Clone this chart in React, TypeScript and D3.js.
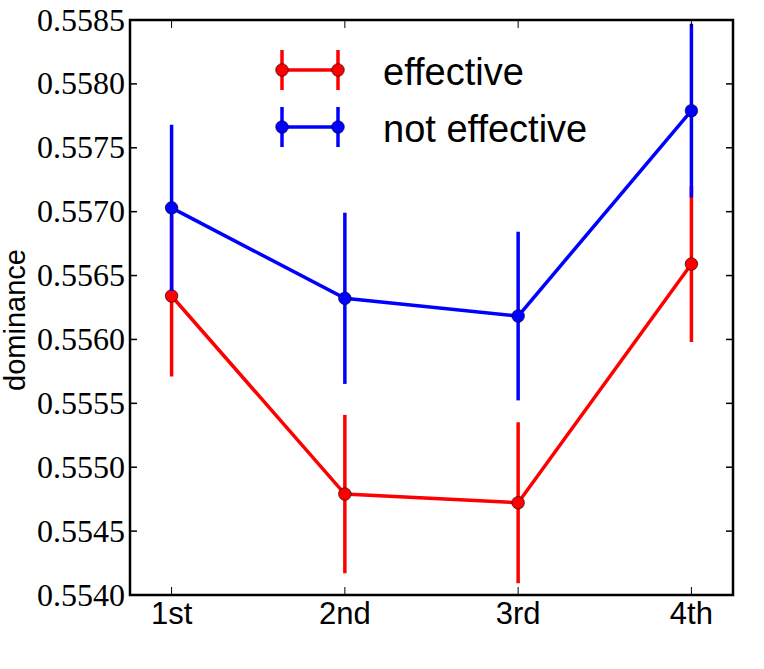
import React from 'react';
import * as d3 from 'd3';

const categories = ['1st', '2nd', '3rd', '4th'];
const effectiveMean = [0.55634, 0.55479, 0.554722, 0.55659];
const effectiveErr = [0.00063, 0.00062, 0.00063, 0.00061];
const notEffectiveMean = [0.55703, 0.556322, 0.556183, 0.55779];
const notEffectiveErr = [0.00065, 0.00067, 0.00066, 0.00068];
const yTicks = [0.554, 0.5545, 0.555, 0.5555, 0.556, 0.5565, 0.557, 0.5575, 0.558, 0.5585];

const series = [
  { name: 'effective', color: '#ff0000', mean: effectiveMean, err: effectiveErr },
  { name: 'not effective', color: '#0000ff', mean: notEffectiveMean, err: notEffectiveErr },
];

const W = 764;
const H = 669;
const left = 130;
const right = 733;
const top = 20;
const bottom = 595;

export default function App() {
  const x = d3.scaleLinear().domain([-0.24, 3.24]).range([left, right]);
  const y = d3.scaleLinear().domain([0.554, 0.5585]).range([bottom, top]);
  const line = d3
    .line<number>()
    .x((_, i) => x(i))
    .y((d) => y(d));

  return (
    <svg width={W} height={H} style={{ position: 'absolute', left: 0, top: 0 }}>
      <defs>
        <clipPath id="plot">
          <rect x={left} y={top} width={right - left} height={bottom - top} />
        </clipPath>
      </defs>
      <rect width={W} height={H} fill="#fff" />

      {/* series: error bars, line, markers */}
      <g clipPath="url(#plot)">
        {series.map((s) => (
          <g key={s.name}>
            {s.mean.map((m, i) => (
              <line
                key={'e' + i}
                x1={x(i)}
                x2={x(i)}
                y1={y(m - s.err[i])}
                y2={y(m + s.err[i])}
                stroke={s.color}
                strokeWidth={3.5}
              />
            ))}
            <path d={line(s.mean) || ''} fill="none" stroke={s.color} strokeWidth={3.5} />
            {s.mean.map((m, i) => (
              <circle key={'m' + i} cx={x(i)} cy={y(m)} r={6.3} fill={s.color} stroke="#000" strokeWidth={0.6} />
            ))}
          </g>
        ))}
      </g>

      {/* ticks */}
      {yTicks.map((t) => (
        <g key={t}>
          <line x1={left} x2={left + 7} y1={y(t)} y2={y(t)} stroke="#000" strokeWidth={1.5} />
          <line x1={right} x2={right - 7} y1={y(t)} y2={y(t)} stroke="#000" strokeWidth={1.5} />
          <text
            x={left - 5}
            y={y(t)}
            dy="0.33em"
            textAnchor="end"
            fontFamily="Liberation Serif"
            fontSize={32}
          >
            {d3.format('.4f')(t)}
          </text>
        </g>
      ))}
      {categories.map((c, i) => (
        <g key={c}>
          <line x1={x(i)} x2={x(i)} y1={bottom} y2={bottom - 8} stroke="#000" strokeWidth={1} />
          <line x1={x(i)} x2={x(i)} y1={top} y2={top + 8} stroke="#000" strokeWidth={1} />
          <text x={x(i)} y={624} textAnchor="middle" fontFamily="Liberation Sans" fontSize={31}>
            {c}
          </text>
        </g>
      ))}

      {/* frame */}
      <rect x={left} y={top} width={right - left} height={bottom - top} fill="none" stroke="#000" strokeWidth={2.5} />

      <text
        transform={`translate(25,320) rotate(-90)`}
        textAnchor="middle"
        fontFamily="Liberation Sans"
        fontSize={29}
      >
        dominance
      </text>

      {/* legend */}
      {series.map((s, k) => {
        const ly = 70 + k * 57;
        return (
          <g key={s.name}>
            <line x1={282} x2={338} y1={ly} y2={ly} stroke={s.color} strokeWidth={3.5} />
            {[282, 338].map((lx) => (
              <g key={lx}>
                <line x1={lx} x2={lx} y1={ly - 20} y2={ly + 20} stroke={s.color} strokeWidth={3.5} />
                <circle cx={lx} cy={ly} r={6.3} fill={s.color} stroke="#000" strokeWidth={0.6} />
              </g>
            ))}
            <text x={383} y={ly + 15} fontFamily="Liberation Sans" fontSize={38}>
              {s.name}
            </text>
          </g>
        );
      })}
    </svg>
  );
}
